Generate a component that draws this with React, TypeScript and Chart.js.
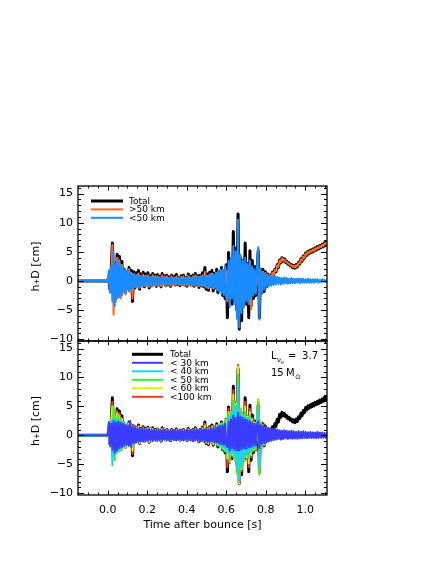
import React, { useEffect, useRef } from "react";
import { Chart, registerables } from "chart.js";

Chart.register(...registerables);

const FONT = '"DejaVu Sans", "Liberation Sans", sans-serif';

// ---------- data (h+D in cm), sampled every SAMPLE_STEP seconds after bounce ----------
const SAMPLE_STEP = 0.006;
const PRE_BOUNCE_TIMES = [-0.16, 0];
const PRE_BOUNCE_VALUES = [0, 0];

const TOTAL = [
  0.6, -1.5, 2.0, 6.5, -2.8, 3.0, -2.2, 4.6, -1.6, 4.2,
  -2.4, 3.4, -1.2, 2.0, -2.0, 1.5, -0.8, 2.3, -1.5, 1.8,
  -3.5, 1.6, -1.2, 1.4, -0.9, 1.8, -1.4, 1.2, -0.7, 1.5,
  -1.0, 1.2, -0.6, 1.4, -1.2, 0.9, -0.8, 1.3, -0.5, 1.0,
  -0.9, 1.1, -0.6, 0.8, -1.0, 1.3, -0.4, 0.9, -0.8, 1.0,
  -0.6, 0.7, -0.9, 1.0, -0.5, 0.8, -0.7, 1.1, -0.6, 0.6,
  -0.8, 0.9, -0.5, 1.0, -0.7, 0.6, -0.9, 1.2, -0.5, 0.8,
  -0.7, 1.0, -0.9, 1.3, -0.6, 0.9, -1.1, 1.0, -0.8, 1.4,
  -1.0, 2.3, -1.4, 1.2, -1.6, 1.5, -0.9, 1.8, -1.7, 1.3,
  -1.2, 2.0, -2.0, 1.5, -1.5, 2.3, -2.5, 1.6, -3.0, 2.8,
  -6.3, 4.9, -3.5, 3.0, -4.0, 8.5, -2.5, 5.6, -5.0, 11.5,
  -8.3, 4.0, -6.8, 3.5, -3.0, 6.5, -4.0, 3.0, -6.3, 5.2,
  -4.3, 3.5, -3.0, 2.5, -2.5, 1.8, 5.2, -6.3, 2.0, -2.0,
  2.0, -1.8, 1.6, -1.0, 1.2, 0.0, 1.0, 0.4, 1.5, 1.0,
  2.0, 1.6, 2.8, 2.3, 3.6, 3.1, 4.0, 3.4, 3.8, 3.2,
  3.4, 2.9, 3.1, 2.6, 2.8, 2.3, 2.7, 2.2, 2.8, 2.4,
  3.2, 2.9, 3.8, 3.4, 4.3, 3.9, 4.8, 4.4, 5.1, 4.7,
  5.3, 4.9, 5.5, 5.1, 5.7, 5.3, 5.9, 5.5, 6.1, 5.7,
  6.3, 5.9, 6.6, 6.2, 6.9, 6.6,
];

const GT50 = [
  0.3, -1.0, 1.2, 6.2, -5.8, 2.2, -3.5, 4.0, -2.8, 3.6,
  -3.0, 2.8, -1.8, 1.6, -2.3, 1.2, -1.4, 2.0, -1.8, 1.4,
  -3.0, 1.2, -1.0, 1.0, -1.1, 1.3, -1.2, 0.9, -0.8, 1.1,
  -0.9, 0.9, -0.7, 1.0, -1.0, 0.7, -0.8, 1.0, -0.6, 0.8,
  -0.8, 0.8, -0.7, 0.6, -0.9, 1.0, -0.5, 0.7, -0.8, 0.8,
  -0.6, 0.5, -0.8, 0.8, -0.6, 0.6, -0.7, 0.8, -0.6, 0.5,
  -0.7, 0.7, -0.6, 0.8, -0.7, 0.5, -0.8, 0.9, -0.5, 0.6,
  -0.7, 0.8, -0.8, 1.0, -0.6, 0.7, -0.9, 0.8, -0.8, 1.0,
  -0.9, 1.6, -1.1, 0.9, -1.3, 1.1, -0.8, 1.3, -1.3, 1.0,
  -1.0, 1.4, -1.5, 1.1, -1.2, 1.6, -1.8, 1.2, -2.0, 1.8,
  -3.5, 2.5, -2.2, 1.8, -2.5, 3.0, -1.8, 2.5, -2.8, 2.5,
  -3.0, 2.0, -3.5, 2.2, -2.0, 3.0, -2.5, 1.8, -3.8, 2.8,
  -4.9, 2.2, -2.0, 1.6, -1.8, 1.2, 1.0, -4.0, 1.5, -1.5,
  1.6, -1.2, 1.4, -0.6, 1.1, 0.2, 0.9, 0.5, 1.4, 1.0,
  1.9, 1.7, 2.7, 2.4, 3.5, 3.2, 3.9, 3.5, 3.7, 3.3,
  3.3, 3.0, 3.0, 2.7, 2.7, 2.4, 2.6, 2.3, 2.7, 2.5,
  3.1, 3.0, 3.7, 3.5, 4.2, 4.0, 4.7, 4.5, 5.0, 4.8,
  5.2, 5.0, 5.4, 5.2, 5.6, 5.4, 5.8, 5.6, 6.0, 5.8,
  6.2, 6.0, 6.5, 6.3, 6.8, 6.7,
];

const LT50 = [
  1.8, -2.0, 2.5, -3.5, 5.0, -4.3, 3.0, -3.0, 3.5, -2.8,
  2.8, -2.5, 2.2, -2.0, 2.0, -1.6, 1.8, -1.8, 1.5, -1.4,
  1.2, -1.3, 1.0, -1.0, 1.1, -0.9, 0.9, -1.0, 0.8, -0.8,
  0.8, -0.7, 0.9, -0.8, 0.6, -0.7, 0.7, -0.6, 0.8, -0.6,
  0.6, -0.7, 0.7, -0.5, 0.6, -0.6, 0.7, -0.5, 0.6, -0.6,
  0.5, -0.6, 0.6, -0.5, 0.6, -0.4, 0.5, -0.6, 0.5, -0.5,
  0.6, -0.5, 0.5, -0.6, 0.5, -0.5, 0.6, -0.5, 0.6, -0.6,
  0.6, -0.7, 0.7, -0.6, 0.8, -0.7, 0.6, -0.8, 0.7, -0.7,
  0.9, -0.9, 1.0, -1.1, 0.9, -1.0, 1.2, -1.1, 1.0, -1.2,
  1.4, -1.5, 1.6, -1.8, 1.9, -2.2, 2.0, -2.5, 2.6, -3.0,
  -3.0, 3.5, -4.5, 4.0, -3.0, 6.0, -4.0, 5.1, -6.5, 10.5,
  -8.0, 4.5, -5.5, 3.5, -4.5, 4.0, -3.5, 3.0, -4.0, 3.5,
  -3.0, 2.5, -2.5, 2.0, -2.2, 2.5, 5.8, -6.6, 2.2, -2.0,
  1.5, -1.5, 1.2, -1.0, 1.0, -0.9, 0.9, -0.8, 0.8, -0.7,
  0.8, -0.6, 0.7, -0.5, 0.6, -0.6, 0.5, -0.5, 0.6, -0.4,
  0.5, -0.5, 0.4, -0.4, 0.5, -0.4, 0.4, -0.4, 0.4, -0.3,
  0.4, -0.4, 0.4, -0.3, 0.4, -0.3, 0.3, -0.3, 0.4, -0.3,
  0.3, -0.3, 0.3, -0.3, 0.3, -0.2, 0.3, -0.3, 0.2, -0.2,
  0.3, -0.2, 0.2, -0.2, 0.2, -0.2,
];

const LT30 = [
  2.3, -1.8, 2.0, -2.5, 2.5, -3.0, 2.2, -2.6, 2.4, -2.2,
  2.2, -2.0, 2.0, -1.8, 1.8, -1.6, 1.7, -1.8, 2.5, -2.0,
  1.5, -1.3, 1.4, -1.2, 1.2, -1.1, 1.3, -1.0, 1.1, -1.0,
  1.2, -1.0, 1.0, -0.9, 1.1, -0.8, 0.9, -1.0, 1.0, -0.8,
  0.9, -0.9, 1.0, -0.8, 0.8, -0.9, 1.1, -0.7, 0.9, -0.8,
  0.8, -0.9, 0.9, -0.7, 1.0, -0.8, 0.8, -0.9, 0.9, -0.7,
  1.0, -0.8, 0.8, -0.9, 0.9, -0.7, 1.0, -0.8, 0.9, -0.9,
  0.9, -1.0, 1.0, -0.8, 1.1, -0.9, 0.9, -1.0, 1.0, -0.9,
  1.1, -1.0, 1.2, -1.1, 1.0, -1.2, 1.3, -1.0, 1.1, -1.2,
  1.3, -1.2, 1.5, -1.4, 1.6, -1.5, 1.7, -1.6, 2.0, -1.8,
  -2.0, 2.4, -2.6, 2.8, -2.2, 3.4, -2.5, 3.0, -2.6, 3.9,
  -2.6, 3.2, -2.4, 3.0, -2.2, 2.8, -2.3, 2.6, -2.0, 2.4,
  -2.0, 2.2, -1.8, 2.0, -1.7, 1.8, 2.4, -2.2, 1.8, -1.5,
  1.6, -1.3, 1.5, -1.2, 1.3, -1.0, 1.2, -0.9, 1.1, -0.8,
  1.2, -0.7, 1.0, -0.6, 0.9, -0.7, 0.8, -0.6, 0.9, -0.5,
  0.8, -0.6, 0.7, -0.5, 0.8, -0.6, 0.7, -0.5, 0.6, -0.6,
  0.7, -0.5, 0.6, -0.5, 0.7, -0.4, 0.6, -0.5, 0.5, -0.4,
  0.6, -0.4, 0.5, -0.4, 0.5, -0.5, 0.6, -0.4, 0.5, -0.4,
  0.5, -0.4, 0.4, -0.4, 0.5, -0.3,
];

const LT40 = [
  2.0, -1.5, 2.5, -5.2, 3.0, -3.5, 2.8, -3.0, 2.6, -2.5,
  2.4, -2.2, 2.2, -2.0, 2.0, -1.8, 1.9, -1.7, 2.0, -1.5,
  1.4, -1.4, 1.3, -1.2, 1.2, -1.1, 1.1, -1.1, 1.0, -1.0,
  1.0, -0.9, 1.1, -0.9, 0.9, -0.8, 1.0, -0.8, 0.9, -0.8,
  0.9, -0.8, 0.9, -0.7, 0.8, -0.8, 0.9, -0.7, 0.8, -0.8,
  0.7, -0.8, 0.8, -0.7, 0.8, -0.7, 0.7, -0.8, 0.8, -0.7,
  0.8, -0.7, 0.7, -0.8, 0.8, -0.7, 0.9, -0.7, 0.8, -0.8,
  0.8, -0.9, 0.9, -0.8, 1.0, -0.8, 0.8, -0.9, 0.9, -0.9,
  1.0, -1.0, 1.1, -1.1, 1.0, -1.1, 1.2, -1.1, 1.1, -1.2,
  1.4, -1.4, 1.6, -1.6, 1.8, -2.0, 2.0, -2.2, 2.4, -2.6,
  -2.8, 3.2, -4.0, 3.6, -3.0, 5.0, -3.5, 4.5, -5.5, 9.0,
  -7.8, 4.0, -5.0, 3.2, -4.0, 3.6, -3.2, 2.8, -3.6, 3.0,
  -2.6, 2.3, -2.2, 1.8, -2.0, 2.2, 4.5, -5.5, 2.0, -1.8,
  1.4, -1.3, 1.2, -1.0, 1.0, -0.9, 0.9, -0.8, 0.9, -0.7,
  0.9, -0.6, 0.8, -0.6, 0.7, -0.6, 0.6, -0.5, 0.7, -0.5,
  0.6, -0.5, 0.5, -0.5, 0.6, -0.5, 0.5, -0.4, 0.5, -0.4,
  0.5, -0.4, 0.5, -0.4, 0.5, -0.4, 0.4, -0.4, 0.4, -0.3,
  0.4, -0.4, 0.4, -0.3, 0.4, -0.3, 0.4, -0.3, 0.3, -0.3,
  0.4, -0.3, 0.3, -0.3, 0.3, -0.3,
];

const LT60 = [
  1.2, -1.8, 2.3, 5.0, -4.0, 3.4, -2.8, 3.8, -2.5, 3.4,
  -2.5, 2.8, -1.8, 2.0, -2.1, 1.7, -1.4, 2.0, -1.7, 1.7,
  -2.6, 1.5, -1.3, 1.3, -1.1, 1.5, -1.3, 1.1, -0.9, 1.2,
  -1.0, 1.1, -0.8, 1.2, -1.1, 0.9, -0.9, 1.1, -0.7, 0.9,
  -0.9, 1.0, -0.8, 0.8, -0.9, 1.1, -0.6, 0.8, -0.9, 0.9,
  -0.8, 0.8, -0.8, 0.9, -0.7, 0.8, -0.8, 0.9, -0.7, 0.7,
  -0.8, 0.8, -0.7, 0.9, -0.8, 0.7, -0.8, 1.0, -0.7, 0.8,
  -0.8, 0.9, -0.9, 1.1, -0.8, 0.9, -1.0, 0.9, -0.9, 1.2,
  -1.0, 1.7, -1.2, 1.1, -1.4, 1.3, -1.0, 1.5, -1.5, 1.2,
  -1.3, 1.7, -1.7, 1.6, -1.8, 2.1, -2.3, 1.9, -2.7, 2.8,
  -4.0, 4.0, -4.6, 4.1, -3.4, 7.0, -4.1, 5.5, -6.6, 11.8,
  -8.3, 4.6, -5.8, 3.6, -4.6, 5.0, -3.8, 3.2, -4.8, 4.0,
  -3.4, 2.8, -2.6, 2.2, -2.4, 2.7, 6.1, -6.7, 2.3, -2.1,
  1.7, -1.6, 1.4, -1.1, 1.1, -1.0, 1.0, -0.9, 0.9, -0.8,
  0.9, -0.7, 0.8, -0.6, 0.7, -0.6, 0.6, -0.5, 0.6, -0.5,
  0.6, -0.5, 0.5, -0.5, 0.5, -0.5, 0.5, -0.4, 0.5, -0.4,
  0.5, -0.4, 0.4, -0.4, 0.5, -0.4, 0.4, -0.3, 0.4, -0.3,
  0.4, -0.3, 0.4, -0.3, 0.4, -0.3, 0.3, -0.3, 0.3, -0.3,
  0.3, -0.3, 0.3, -0.2, 0.3, -0.2,
];

const LT100 = [
  0.8, -1.6, 2.2, 5.8, -3.2, 3.0, -2.6, 4.2, -2.2, 3.8,
  -2.6, 3.0, -1.6, 2.0, -2.2, 1.6, -1.2, 2.2, -1.7, 1.8,
  -3.2, 1.6, -1.3, 1.4, -1.1, 1.7, -1.4, 1.2, -0.9, 1.4,
  -1.1, 1.2, -0.8, 1.3, -1.2, 0.9, -0.9, 1.2, -0.7, 1.0,
  -1.0, 1.1, -0.8, 0.9, -1.0, 1.2, -0.6, 0.9, -0.9, 1.0,
  -0.8, 0.8, -0.9, 1.0, -0.7, 0.8, -0.8, 1.0, -0.7, 0.7,
  -0.9, 0.9, -0.7, 1.0, -0.8, 0.7, -0.9, 1.1, -0.7, 0.8,
  -0.8, 1.0, -1.0, 1.2, -0.8, 0.9, -1.1, 1.0, -0.9, 1.3,
  -1.1, 2.0, -1.3, 1.2, -1.5, 1.4, -1.0, 1.6, -1.6, 1.3,
  -1.3, 1.8, -1.8, 1.5, -1.6, 2.0, -2.3, 1.7, -2.6, 2.6,
  -5.5, 4.6, -4.8, 4.2, -3.8, 7.8, -4.2, 5.8, -6.6, 12.2,
  -8.5, 4.6, -6.2, 3.8, -4.6, 5.8, -4.2, 3.4, -5.5, 4.6,
  -3.8, 3.0, -2.8, 2.4, -2.5, 2.8, 6.2, -6.8, 2.4, -2.2,
  1.9, -1.7, 1.5, -1.2, 1.2, -1.0, 1.0, -0.9, 0.9, -0.8,
  0.9, -0.7, 0.8, -0.6, 0.7, -0.7, 0.6, -0.6, 0.7, -0.5,
  0.6, -0.6, 0.5, -0.5, 0.6, -0.5, 0.5, -0.5, 0.5, -0.4,
  0.5, -0.5, 0.5, -0.4, 0.5, -0.4, 0.4, -0.4, 0.5, -0.4,
  0.4, -0.4, 0.4, -0.4, 0.4, -0.3, 0.4, -0.4, 0.3, -0.3,
  0.4, -0.3, 0.3, -0.3, 0.3, -0.3,
];

// ---------- axes ----------
const X_MIN = -0.15;
const X_MAX = 1.11;
const X_MAJOR = 0.2;
const X_MINOR = 0.05;
const Y_MIN = -10.3;
const Y_MAX = 16.3;
const Y_MAJOR = 5;
const Y_MINOR = 1;

const Y_TITLE = "h\u208AD [cm]";
const X_TITLE = "Time after bounce [s]";

const COLORS = {
  total: "#000000",
  gt50: "#ff6a1f",
  lt50top: "#1a8cff",
  lt30: "#3c3cff",
  lt40: "#1ed2f0",
  lt50: "#33f033",
  lt60: "#e0f000",
  lt100: "#ff3a1a",
};

function toPoints(values: number[]) {
  const pts = PRE_BOUNCE_TIMES.map((t, i) => ({ x: t, y: PRE_BOUNCE_VALUES[i] }));
  values.forEach((v, i) => pts.push({ x: (i + 1) * SAMPLE_STEP, y: v }));
  return pts;
}

function ds(label: string, values: number[], color: string, width: number) {
  return {
    label,
    data: toPoints(values),
    borderColor: color,
    backgroundColor: color,
    borderWidth: width,
    pointRadius: 0,
    tension: 0,
    fill: false,
    borderJoinStyle: "round" as const,
  };
}

function minusFmt(v: number) {
  return v < 0 ? "\u2212" + Math.abs(v) : String(v);
}

const framePlugin = {
  id: "idlFrame",
  afterDatasetsDraw(chart: any) {
    const { ctx, chartArea: a, scales } = chart;
    const xs = scales.x;
    const ys = scales.y;
    ctx.save();
    ctx.strokeStyle = "#000";
    ctx.lineWidth = 1.3;
    ctx.strokeRect(a.left, a.top, a.right - a.left, a.bottom - a.top);
    ctx.lineWidth = 1;
    ctx.beginPath();
    const kx0 = Math.ceil(X_MIN / X_MINOR - 1e-6);
    const kx1 = Math.floor(X_MAX / X_MINOR + 1e-6);
    for (let k = kx0; k <= kx1; k++) {
      const v = k * X_MINOR;
      const r = v / X_MAJOR;
      const major = Math.abs(r - Math.round(r)) < 1e-6;
      const len = major ? 4.5 : 2.5;
      const px = Math.round(xs.getPixelForValue(v)) + 0.5;
      ctx.moveTo(px, a.bottom);
      ctx.lineTo(px, a.bottom - len);
      ctx.moveTo(px, a.top);
      ctx.lineTo(px, a.top + len);
    }
    const ky0 = Math.ceil(Y_MIN / Y_MINOR - 1e-6);
    const ky1 = Math.floor(Y_MAX / Y_MINOR + 1e-6);
    for (let k = ky0; k <= ky1; k++) {
      const v = k * Y_MINOR;
      const r = v / Y_MAJOR;
      const major = Math.abs(r - Math.round(r)) < 1e-6;
      const len = major ? 6 : 3;
      const py = Math.round(ys.getPixelForValue(v)) + 0.5;
      ctx.moveTo(a.left, py);
      ctx.lineTo(a.left + len, py);
      ctx.moveTo(a.right, py);
      ctx.lineTo(a.right - len, py);
    }
    ctx.stroke();
    // y title
    ctx.fillStyle = "#000";
    ctx.font = `11px ${FONT}`;
    ctx.textAlign = "center";
    ctx.textBaseline = "middle";
    ctx.translate(36, (a.top + a.bottom) / 2 + 3);
    ctx.rotate(-Math.PI / 2);
    ctx.fillText(Y_TITLE, 0, 0);
    ctx.restore();
  },
};

type LegendItem = { label: string; color: string; width: number };

function legendPlugin(id: string, items: LegendItem[], x0: number, x1: number, tx: number, y0: number, dy: number) {
  return {
    id,
    afterDraw(chart: any) {
      const { ctx } = chart;
      ctx.save();
      ctx.font = `9px ${FONT}`;
      ctx.textAlign = "left";
      ctx.textBaseline = "middle";
      items.forEach((it, i) => {
        const y = y0 + i * dy;
        ctx.strokeStyle = it.color;
        ctx.lineWidth = it.width;
        ctx.beginPath();
        ctx.moveTo(x0, y);
        ctx.lineTo(x1, y);
        ctx.stroke();
        ctx.fillStyle = "#000";
        ctx.fillText(it.label, tx, y + 0.5);
      });
      ctx.restore();
    },
  };
}

const bottomTextPlugin = {
  id: "bottomText",
  afterDraw(chart: any) {
    const { ctx, chartArea: a } = chart;
    ctx.save();
    ctx.fillStyle = "#000";
    ctx.textAlign = "left";
    ctx.textBaseline = "alphabetic";
    // L_{nu_e} = 3.7
    ctx.font = `10px ${FONT}`;
    ctx.fillText("L", 271, 359);
    ctx.font = `7px ${FONT}`;
    ctx.fillText("\u03BD", 277, 362);
    ctx.font = `5px ${FONT}`;
    ctx.fillText("e", 281, 364);
    ctx.font = `10px ${FONT}`;
    ctx.fillText("=", 288, 359);
    ctx.textAlign = "right";
    ctx.fillText("3.7", 318, 359);
    ctx.textAlign = "left";
    ctx.fillText("15", 271, 376);
    ctx.fillText("M", 286, 376);
    ctx.font = `7px ${FONT}`;
    ctx.fillText("\u2299", 295, 379);
    // x title
    ctx.font = `11px ${FONT}`;
    ctx.textAlign = "center";
    ctx.fillText(X_TITLE, (a.left + a.right) / 2, 527.5);
    ctx.restore();
  },
};

function baseOptions(padding: any, showXLabels: boolean) {
  return {
    responsive: false,
    animation: false as const,
    events: [] as any[],
    layout: { padding },
    plugins: { legend: { display: false }, tooltip: { enabled: false } },
    scales: {
      x: {
        type: "linear" as const,
        min: X_MIN,
        max: X_MAX,
        display: showXLabels,
        grid: { display: false, drawTicks: false },
        border: { display: false },
        ticks: {
          stepSize: X_MAJOR,
          includeBounds: false,
          autoSkip: false,
          maxRotation: 0,
          padding: 9,
          color: "#000",
          font: { family: FONT, size: 11 },
          callback: (v: any) => Number(v).toFixed(1),
        },
        afterFit: (s: any) => {
          s.height = showXLabels ? 69 : 0;
        },
      },
      y: {
        type: "linear" as const,
        min: Y_MIN,
        max: Y_MAX,
        grid: { display: false, drawTicks: false },
        border: { display: false },
        ticks: {
          stepSize: Y_MAJOR,
          includeBounds: false,
          autoSkip: false,
          padding: 5,
          color: "#000",
          font: { family: FONT, size: 11 },
          callback: (v: any) => minusFmt(Number(v)),
        },
        afterFit: (s: any) => {
          s.width = 78;
        },
      },
    },
  };
}

export default function App() {
  const topRef = useRef<HTMLCanvasElement | null>(null);
  const botRef = useRef<HTMLCanvasElement | null>(null);

  useEffect(() => {
    const top = new Chart(topRef.current!, {
      type: "line",
      data: {
        datasets: [
          ds("<50 km", LT50, COLORS.lt50top, 2),
          ds(">50 km", GT50, COLORS.gt50, 2),
          ds("Total", TOTAL, COLORS.total, 3),
        ],
      },
      options: baseOptions({ left: 0, right: 109, top: 186, bottom: 223 }, false) as any,
      plugins: [
        framePlugin,
        legendPlugin(
          "topLegend",
          [
            { label: "Total", color: COLORS.total, width: 3 },
            { label: ">50 km", color: COLORS.gt50, width: 2 },
            { label: "<50 km", color: COLORS.lt50top, width: 2 },
          ],
          91, 123, 129, 201, 8.4
        ),
      ],
    });
    const bot = new Chart(botRef.current!, {
      type: "line",
      data: {
        datasets: [
          ds("< 30 km", LT30, COLORS.lt30, 2),
          ds("< 40 km", LT40, COLORS.lt40, 2),
          ds("< 50 km", LT50, COLORS.lt50, 2),
          ds("< 60 km", LT60, COLORS.lt60, 2),
          ds("<100 km", LT100, COLORS.lt100, 2),
          ds("Total", TOTAL, COLORS.total, 3),
        ],
      },
      options: baseOptions({ left: 0, right: 109, top: 341, bottom: 0 }, true) as any,
      plugins: [
        framePlugin,
        legendPlugin(
          "botLegend",
          [
            { label: "Total", color: COLORS.total, width: 3 },
            { label: "< 30 km", color: COLORS.lt30, width: 2 },
            { label: "< 40 km", color: COLORS.lt40, width: 2 },
            { label: "< 50 km", color: COLORS.lt50, width: 2 },
            { label: "< 60 km", color: COLORS.lt60, width: 2 },
            { label: "<100 km", color: COLORS.lt100, width: 2 },
          ],
          132, 163, 170, 354.3, 8.5
        ),
        bottomTextPlugin,
      ],
    });
    return () => {
      top.destroy();
      bot.destroy();
    };
  }, []);

  const cs: React.CSSProperties = { position: "absolute", left: 0, top: 0, width: 436, height: 564 };
  return (
    <div style={{ position: "absolute", left: 0, top: 0, width: 436, height: 564, background: "#fff" }}>
      <canvas ref={topRef} width={436} height={564} style={cs} />
      <canvas ref={botRef} width={436} height={564} style={cs} />
    </div>
  );
}
